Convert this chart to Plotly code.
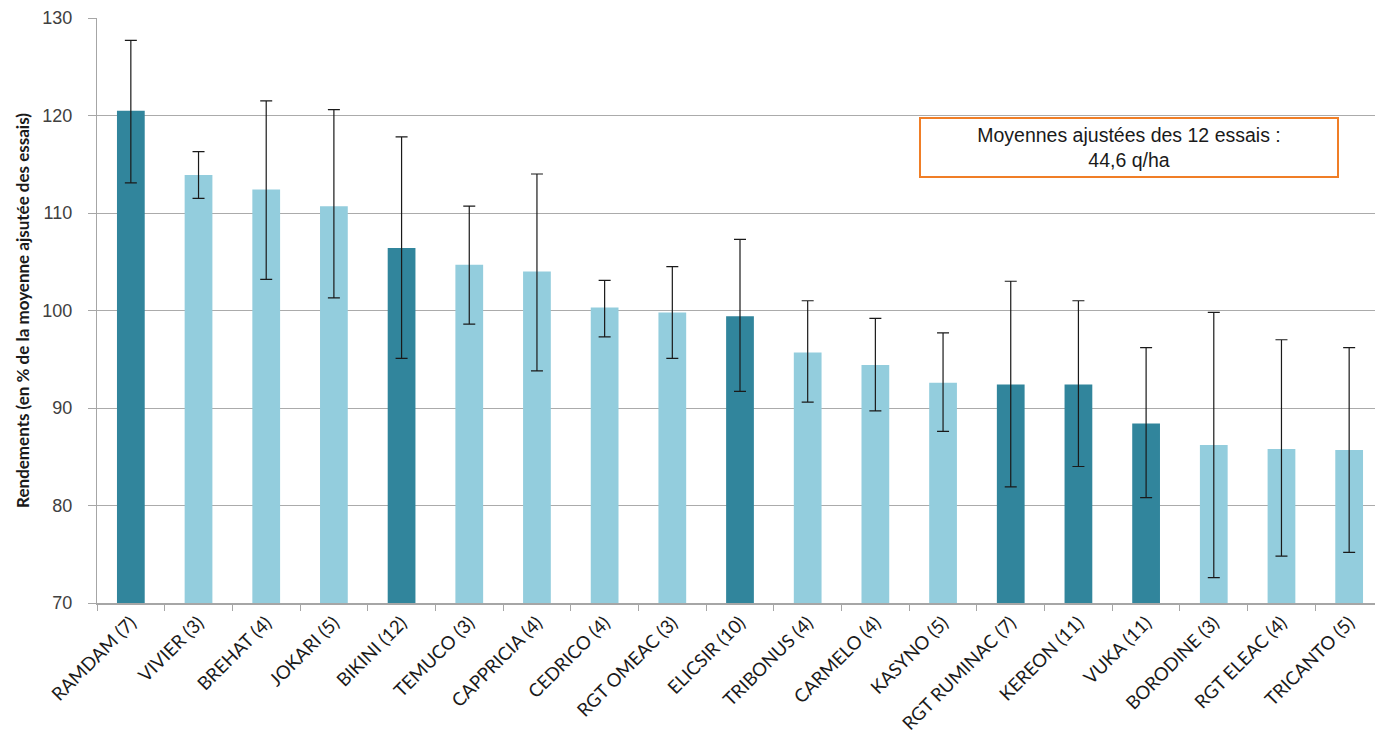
import plotly.graph_objects as go

categories = ["RAMDAM (7)", "VIVIER (3)", "BREHAT (4)", "JOKARI (5)", "BIKINI (12)",
              "TEMUCO (3)", "CAPPRICIA (4)", "CEDRICO (4)", "RGT OMEAC (3)", "ELICSIR (10)",
              "TRIBONUS (4)", "CARMELO (4)", "KASYNO (5)", "RGT RUMINAC (7)", "KEREON (11)",
              "VUKA (11)", "BORODINE (3)", "RGT ELEAC (4)", "TRICANTO (5)"]
values = [120.5, 113.9, 112.4, 110.7, 106.4, 104.7, 104.0, 100.3, 99.8, 99.4,
          95.7, 94.4, 92.6, 92.4, 92.4, 88.4, 86.2, 85.8, 85.7]
upper = [127.7, 116.3, 121.5, 120.6, 117.8, 110.7, 114.0, 103.1, 104.5, 107.3,
         101.0, 99.2, 97.7, 103.0, 101.0, 96.2, 99.8, 97.0, 96.2]
lower = [113.1, 111.5, 103.2, 101.3, 95.1, 98.6, 93.8, 97.3, 95.1, 91.7,
         90.6, 89.7, 87.6, 81.9, 84.0, 80.8, 72.6, 74.8, 75.2]
dark = [True, False, False, False, True, False, False, False, False, True,
        False, False, False, True, True, True, False, False, False]

colors = ["#31859C" if d else "#93CDDD" for d in dark]
err_plus = [u - v for u, v in zip(upper, values)]
err_minus = [v - l for v, l in zip(values, lower)]

fig = go.Figure(go.Bar(
    x=categories, y=values, marker=dict(color=colors, line=dict(width=0)),
    width=0.41,
    error_y=dict(type="data", symmetric=False, array=err_plus, arrayminus=err_minus,
                 color="#1a1a1a", thickness=1.2, width=6),
))

fig.update_layout(
    width=1375, height=731,
    margin=dict(l=89, r=0, t=10, b=136, autoexpand=False),
    plot_bgcolor="white", paper_bgcolor="white",
    showlegend=False,
    xaxis=dict(
        type="category", tickangle=-45, tickson="boundaries",
        ticks="outside", ticklen=6, tickcolor="#A6A6A6",
        showline=True, linecolor="#A6A6A6", linewidth=1.5,
        tickfont=dict(family="Lato", size=18.5, color="#1a1a1a"),
        showgrid=False, automargin=False,
    ),
    yaxis=dict(
        range=[70, 130], dtick=10, tick0=70,
        ticks="outside", ticklen=8, tickcolor="#A6A6A6",
        showline=True, linecolor="#A6A6A6", linewidth=1.2,
        showgrid=True, gridcolor="#ABABAB", gridwidth=1.2,
        zeroline=False, automargin=False,
        ticklabelstandoff=12,
        tickfont=dict(family="Liberation Sans", size=18, color="#404040"),
        title=dict(text="<b>Rendements (en % de la moyenne ajsutée des essais)</b>",
                   font=dict(family="Lato", size=17, color="#1a1a1a"), standoff=8),
    ),
    annotations=[dict(
        xref="paper", yref="paper", x=0.8025, y=0.7786,
        xanchor="center", yanchor="middle",
        text="Moyennes ajustées des 12 essais :<br>44,6 q/ha",
        showarrow=False, align="center",
        font=dict(family="Liberation Sans", size=19.5, color="#1a1a1a"),
        bordercolor="#F07E26", borderwidth=2, bgcolor="white",
        width=414, height=55,
    )],
)

fig.write_html("out.html")
